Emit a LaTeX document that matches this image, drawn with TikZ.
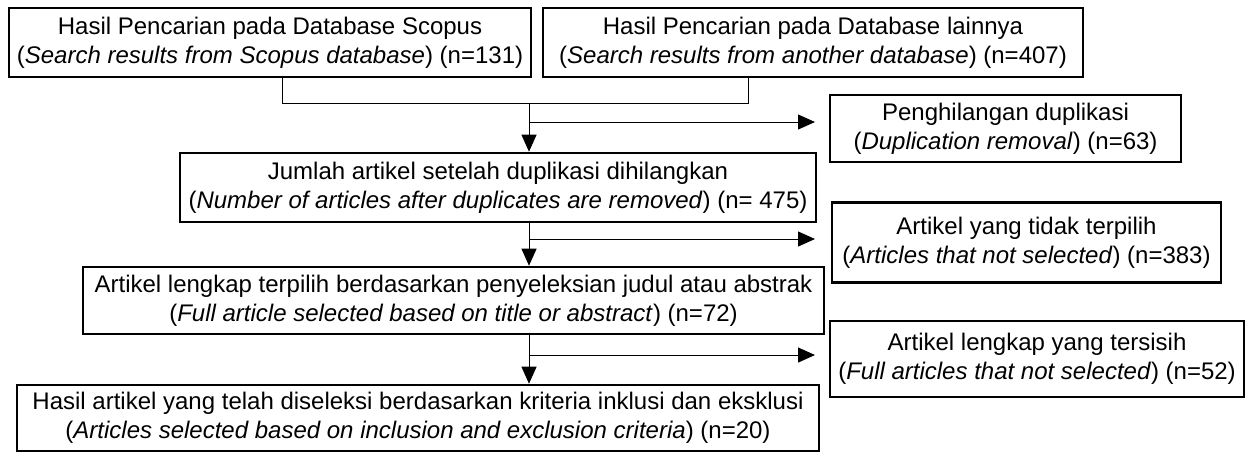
\documentclass[tikz,border=0pt]{standalone}
\usepackage{fontspec}
\setmainfont{Liberation Sans}
\usetikzlibrary{arrows.meta}

\begin{document}
\begin{tikzpicture}[x=0.5pt, y=-0.5pt,
  every node/.style={font=\fontsize{12}{14.5}\selectfont, align=center, inner sep=1pt},
  box/.style={draw, line width=1.3pt},
  arr/.style={-{Triangle[length=8.5pt,width=7.5pt]}, line width=0.5pt}]
  \useasboundingbox (0,0) rectangle (1245,452);
  % kotak-kotak
  \node[box, minimum width=261pt, minimum height=34.5pt] (scopus) at (270,42.5)
    {Hasil Pencarian pada Database Scopus\\(\textit{Search results from Scopus database}) (n=131)};
  \node[box, minimum width=270pt, minimum height=34.5pt] (lain) at (813,42.5)
    {Hasil Pencarian pada Database lainnya\\(\textit{Search results from another database}) (n=407)};
  \node[box, minimum width=175.5pt, minimum height=33.5pt] (dup) at (1005.5,128.5)
    {Penghilangan duplikasi\\(\textit{Duplication removal}) (n=63)};
  \node[box, minimum width=318pt, minimum height=34.5pt] (jumlah) at (498,187.5)
    {Jumlah artikel setelah duplikasi dihilangkan\\(\textit{Number of articles after duplicates are removed}) (n= 475)};
  \node[box, minimum width=194.5pt, minimum height=40pt] (tidak) at (1026.5,242.5)
    {Artikel yang tidak terpilih\\(\textit{Articles that not selected}) (n=383)};
  \node[box, minimum width=370.5pt, minimum height=33.5pt] (lengkap) at (453.5,300.5)
    {Artikel lengkap terpilih berdasarkan penyeleksian judul atau abstrak\\(\textit{Full article selected based on title or abstract}) (n=72)};
  \node[box, minimum width=207pt, minimum height=38pt] (tersisih) at (1037,359)
    {Artikel lengkap yang tersisih\\(\textit{Full articles that not selected}) (n=52)};
  \node[box, minimum width=401pt, minimum height=33pt] (hasil) at (418,418)
    {Hasil artikel yang telah diseleksi berdasarkan kriteria inklusi dan eksklusi\\(\textit{Articles selected based on inclusion and exclusion criteria}) (n=20)};
  % titik bantu
  \coordinate (j1) at (282,103); \coordinate (j2) at (748,103);
  \coordinate (m1) at (529,103);
  \coordinate (b1) at (529,122); \coordinate (t1) at (815,122);
  \coordinate (b2) at (529,239); \coordinate (t2) at (815,239);
  \coordinate (b3) at (529,355); \coordinate (t3) at (815,355);
  % garis
  \draw[line width=0.5pt] (j1 |- scopus.south) -- (j1) -- (j2) -- (j2 |- lain.south);
  \draw[arr] (m1) -- (m1 |- jumlah.north);
  \draw[arr] (b1) -- (t1);
  \draw[arr] (m1 |- jumlah.south) -- (m1 |- lengkap.north);
  \draw[arr] (b2) -- (t2);
  \draw[arr] (m1 |- lengkap.south) -- (m1 |- hasil.north);
  \draw[arr] (b3) -- (t3);
\end{tikzpicture}
\end{document}
